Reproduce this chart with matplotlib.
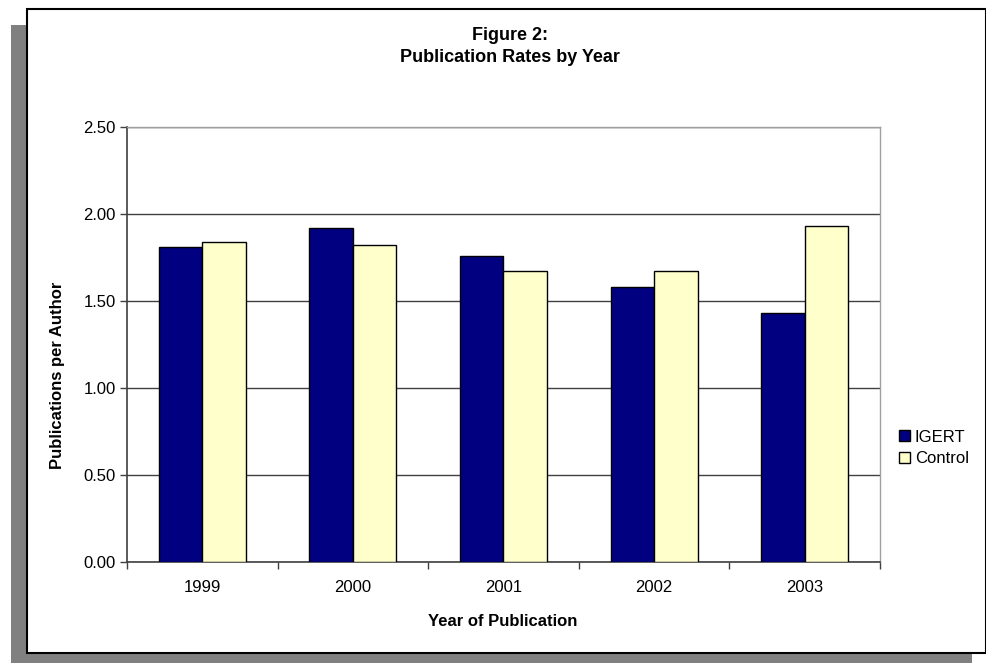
import numpy as np
import matplotlib.pyplot as plt
from matplotlib.patches import Rectangle

anos = ['1999', '2000', '2001', '2002', '2003']
igert = [1.81, 1.92, 1.76, 1.58, 1.43]
controle = [1.84, 1.82, 1.67, 1.67, 1.93]

W, H = 987, 663
plt.rcParams['font.family'] = ['Liberation Sans', 'DejaVu Sans']
fig = plt.figure(figsize=(W / 100, H / 100), dpi=100)

# moldura com sombra (estilo Excel)
fig.patches.append(Rectangle((10.7 / W, 0), (971.7 - 10.7) / W, (663 - 25) / H,
                             transform=fig.transFigure, facecolor='#808080', edgecolor='none', zorder=0))
fig.patches.append(Rectangle((26.7 / W, (H - 653) / H), (986 - 26.7) / W, (653 - 9.3) / H,
                             transform=fig.transFigure, facecolor='white', edgecolor='black',
                             linewidth=1.5, zorder=1))

ax = fig.add_axes([127 / W, (H - 562.3) / H, (880 - 127) / W, (562.3 - 126.7) / H])
ax.set_zorder(2)

x = np.arange(len(anos))
larg = 0.289
ax.bar(x - larg / 2, igert, larg, color='#000080', edgecolor='black', linewidth=1, label='IGERT', zorder=3)
ax.bar(x + larg / 2, controle, larg, color='#FFFFCC', edgecolor='black', linewidth=1, label='Control', zorder=3)

ax.set_xlim(-0.5, 4.5)
ax.set_ylim(0, 2.5)
ax.set_yticks(np.arange(0, 2.51, 0.5))
ax.set_yticklabels([f'{v:.2f}' for v in np.arange(0, 2.51, 0.5)], fontsize=12)
ax.yaxis.grid(True, color='#404040', linewidth=1, zorder=1)
ax.set_axisbelow(True)

ax.set_xticks(x)
ax.set_xticklabels(anos, fontsize=12)
ax.set_xticks(np.arange(-0.5, 5, 1), minor=True)
ax.tick_params(axis='x', which='major', length=0, pad=13)
ax.tick_params(axis='x', which='minor', length=5, width=1, direction='out', color='#404040')
ax.tick_params(axis='y', length=5, width=1, direction='out', pad=3, color='#404040')

for lado in ['left', 'bottom']:
    ax.spines[lado].set_color('#404040')
    ax.spines[lado].set_linewidth(1.2)
for lado in ['right', 'top']:
    ax.spines[lado].set_color('#A0A0A0')
    ax.spines[lado].set_linewidth(1)

fig.text(510 / W, 1 - 35 / H, 'Figure 2:', ha='center', va='center', fontsize=13, fontweight='bold', zorder=3)
fig.text(510 / W, 1 - 58 / H, 'Publication Rates by Year', ha='center', va='center', fontsize=13, fontweight='bold', zorder=3)
fig.text(58 / W, 1 - 375 / H, 'Publications per Author', ha='center', va='center', rotation=90,
         fontsize=12, fontweight='bold', zorder=3)
fig.text(503 / W, 1 - 621 / H, 'Year of Publication', ha='center', va='center', fontsize=12, fontweight='bold', zorder=3)

leg = fig.legend(loc='center left', bbox_to_anchor=(884 / W, 1 - 448 / H), frameon=False,
                 fontsize=12, handlelength=0.65, handleheight=0.65, handletextpad=0.3, labelspacing=0.4)
leg.set_zorder(3)

plt.savefig('out.png', dpi=100)
